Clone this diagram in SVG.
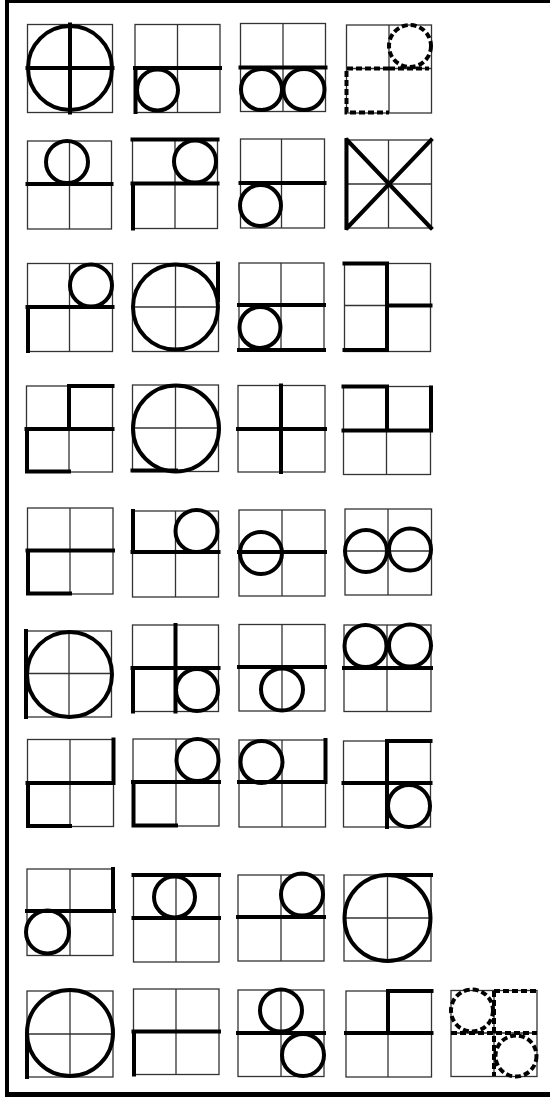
<svg xmlns="http://www.w3.org/2000/svg" width="550" height="1097" viewBox="0 0 550 1097">
<style>
.g{fill:none;stroke:#333;stroke-width:1.3}
.t{fill:none;stroke:#000;stroke-width:4;stroke-linecap:square}
.c{fill:none;stroke:#000;stroke-width:4}
.d{fill:none;stroke:#000;stroke-width:4;stroke-dasharray:6 3}
.dc{fill:none;stroke:#000;stroke-width:4;stroke-dasharray:6 3}
.b{fill:none;stroke:#000}
</style>
<g id="frame">
<line class="b" x1="7" y1="0" x2="7" y2="1097" stroke-width="4"/>
<line class="b" x1="5" y1="1.5" x2="550" y2="1.5" stroke-width="3"/>
<line class="b" x1="5" y1="1094.5" x2="550" y2="1094.5" stroke-width="5"/>
</g>
<g id="connectors"></g>

<g id="r1c1"><rect class="g" x="27.5" y="24.5" width="85" height="88"/><path class="g" d="M70 24.5V112.5M27.5 68H112.5"/>
<path class="t" d="M70 24.5V112.5M27.5 68H112.5"/><circle class="c" cx="70" cy="68" r="42"/></g>
<g id="r1c2"><rect class="g" x="135" y="24.5" width="85" height="88"/><path class="g" d="M177.5 24.5V112.5M135 68H220"/>
<path class="t" d="M135 68H220M135.5 68V112"/><circle class="c" cx="157.5" cy="90" r="20.5"/></g>
<g id="r1c3"><rect class="g" x="240.5" y="23.5" width="85" height="88"/><path class="g" d="M283 23.5V111.5M240.5 67.5H325.5"/>
<path class="t" d="M240.5 67.5H325.5"/><circle class="c" cx="261.5" cy="89.5" r="20.5"/><circle class="c" cx="304" cy="89.5" r="20.5"/></g>
<g id="r1c4"><rect class="g" x="346.5" y="25" width="85" height="88"/><path class="g" d="M389 25V113M346.5 68.5H431.5"/>
<path class="d" d="M389 68.5H346.5V112.5H389M389 68.5H429"/><circle class="dc" cx="410" cy="46" r="21"/></g>

<g id="r2c1"><rect class="g" x="27.5" y="141" width="84" height="88"/><path class="g" d="M69.5 141V229M27.5 184H111.5"/>
<path class="t" d="M27.5 184H111.5"/><circle class="c" cx="67" cy="162" r="21"/></g>
<g id="r2c2"><rect class="g" x="132.5" y="139.5" width="85" height="89"/><path class="g" d="M175 139.5V228.5M132.5 183.5H217.5"/>
<path class="t" d="M132.5 139.5H217.5M132.5 183.5H217.5M133 183.5V228.5"/><circle class="c" cx="195" cy="161.5" r="21"/></g>
<g id="r2c3"><rect class="g" x="240.5" y="139" width="84" height="89"/><path class="g" d="M281.5 139V228M240.5 183H324.5"/>
<path class="t" d="M240.5 183H324.5"/><circle class="c" cx="260.5" cy="205.5" r="20.5"/></g>
<g id="r2c4"><rect class="g" x="345.5" y="140" width="86" height="88"/><path class="g" d="M388.5 140V228M345.5 184H431.5"/>
<path class="t" d="M347 140L431 228M431 140L347 228M346.5 140V228"/></g>

<g id="r3c1"><rect class="g" x="27.5" y="263.5" width="85" height="88"/><path class="g" d="M69.5 263.5V351.5M27.5 307H112.5"/>
<path class="t" d="M27.5 307H112.5M28 307V351"/><circle class="c" cx="91" cy="285.5" r="21"/></g>
<g id="r3c2"><rect class="g" x="132.5" y="263.5" width="86" height="88"/><path class="g" d="M175.5 263.5V351.5M132.5 307H218.5"/>
<path class="t" d="M218 263.5V300"/><circle class="c" cx="175.5" cy="307" r="42.5"/></g>
<g id="r3c3"><rect class="g" x="239" y="263" width="85" height="88"/><path class="g" d="M281 263V351M239 305H324"/>
<path class="t" d="M239 305H324M239 350H324"/><circle class="c" cx="260" cy="327.5" r="20.5"/></g>
<g id="r3c4"><rect class="g" x="344.5" y="263.5" width="86" height="88"/><path class="g" d="M387 263.5V351.5M344.5 305.5H430.5"/>
<path class="t" d="M387 305.5H430.5M344.5 263.5H387V350H344.5"/></g>

<g id="r4c1"><rect class="g" x="26.5" y="386" width="86" height="86"/><path class="g" d="M69 386V472M26.5 429H112.5"/>
<path class="t" d="M112.5 386H69V429M26.5 429H112.5M27 429V471.5H69"/></g>
<g id="r4c2"><rect class="g" x="132.5" y="385" width="86" height="86.5"/><path class="g" d="M175.5 385V471.5M132.5 428H218.5"/>
<path class="t" d="M132.5 470.5H176"/><circle class="c" cx="176" cy="428.5" r="43"/></g>
<g id="r4c3"><rect class="g" x="238" y="385.5" width="87" height="86.5"/><path class="g" d="M281 385.5V472M238 429H325"/>
<path class="t" d="M281 385.5V472M238 429H325"/></g>
<g id="r4c4"><rect class="g" x="343.5" y="386.5" width="87" height="88"/><path class="g" d="M386.5 386.5V474.5M343.5 430.5H430.5"/>
<path class="t" d="M343.5 386.5H387V430.5M343.5 430.5H431M431 387.5V430.5"/></g>

<g id="r5c1"><rect class="g" x="27.5" y="508" width="85.5" height="86"/><path class="g" d="M70 508V594M27.5 550.5H113"/>
<path class="t" d="M27.5 550.5H113M28 550.5V593.5H70"/></g>
<g id="r5c2"><rect class="g" x="132.5" y="511" width="86" height="86"/><path class="g" d="M175.5 511V597M132.5 552H218.5"/>
<path class="t" d="M133 511V552M132.5 552H218.5"/><circle class="c" cx="196.5" cy="531" r="21"/></g>
<g id="r5c3"><rect class="g" x="239" y="510" width="86" height="86"/><path class="g" d="M282 510V596M239 552H325"/>
<path class="t" d="M239 552H325"/><circle class="c" cx="261" cy="553" r="21"/></g>
<g id="r5c4"><rect class="g" x="345" y="509" width="86.5" height="86"/><path class="g" d="M388 509V595M345 551H431.5"/>
<circle class="c" cx="366" cy="551" r="21"/><circle class="c" cx="410" cy="549.5" r="21"/></g>

<g id="r6c1"><rect class="g" x="26.5" y="631" width="85" height="86"/><path class="g" d="M69 631V717M26.5 673.5H111.5"/>
<path class="t" d="M26 631V717"/><circle class="c" cx="69.5" cy="674.5" r="42.5"/></g>
<g id="r6c2"><rect class="g" x="132.5" y="625" width="86" height="86.5"/><path class="g" d="M175.5 625V711.5M132.5 668H218.5"/>
<path class="t" d="M175.5 625V711.5M132.5 668H218.5M133 668V711.5"/><circle class="c" cx="197" cy="690" r="21"/></g>
<g id="r6c3"><rect class="g" x="239" y="624.5" width="86" height="86.5"/><path class="g" d="M282 624.5V711M239 667H325"/>
<path class="t" d="M239 667H325"/><circle class="c" cx="282" cy="689.5" r="21"/></g>
<g id="r6c4"><rect class="g" x="344" y="625" width="87" height="86.5"/><path class="g" d="M387 625V711.5M344 668H431"/>
<path class="t" d="M344 668H431"/><circle class="c" cx="365.5" cy="646" r="21"/><circle class="c" cx="410" cy="645.5" r="21"/></g>

<g id="r7c1"><rect class="g" x="27.5" y="739.5" width="86" height="87"/><path class="g" d="M70 739.5V826.5M27.5 783H113.5"/>
<path class="t" d="M113.5 739.5V783M27.5 783H113.5M28 783V826H70"/></g>
<g id="r7c2"><rect class="g" x="133" y="739" width="86" height="87"/><path class="g" d="M176 739V826M133 782H219"/>
<path class="t" d="M133 782H219M133.5 782V825.5H176"/><circle class="c" cx="197.5" cy="760" r="21"/></g>
<g id="r7c3"><rect class="g" x="239" y="740" width="86.5" height="87"/><path class="g" d="M282 740V827M239 782H325.5"/>
<path class="t" d="M325.5 740V782M239 782H325.5"/><circle class="c" cx="261.5" cy="762" r="21"/></g>
<g id="r7c4"><rect class="g" x="343.5" y="741" width="87" height="86"/><path class="g" d="M387 741V827M343.5 783H430.5"/>
<path class="t" d="M387 741H430.5M387 741V827M343.5 783H430.5"/><circle class="c" cx="409" cy="806" r="21"/></g>

<g id="r8c1"><rect class="g" x="27" y="869" width="86" height="86.5"/><path class="g" d="M70 869V955.5M27 911H113"/>
<path class="t" d="M113 869V911M27 911H114"/><circle class="c" cx="47.5" cy="932" r="21.5"/></g>
<g id="r8c2"><rect class="g" x="133.5" y="875" width="85.5" height="87"/><path class="g" d="M176 875V962M133.5 918H219"/>
<path class="t" d="M133.5 875H219M133.5 918H219"/><circle class="c" cx="174.5" cy="897" r="20.5"/></g>
<g id="r8c3"><rect class="g" x="238" y="875" width="86" height="86"/><path class="g" d="M281 875V961M238 917H324"/>
<path class="t" d="M238 917H324"/><circle class="c" cx="302" cy="894.5" r="21"/></g>
<g id="r8c4"><rect class="g" x="344" y="875" width="87" height="86"/><path class="g" d="M387.5 875V961M344 918H431"/>
<path class="t" d="M387.5 875H431"/><circle class="c" cx="387.5" cy="918" r="43"/></g>

<g id="r9c1"><rect class="g" x="27" y="991" width="86" height="86"/><path class="g" d="M70 991V1077M27 1034H113"/>
<path class="t" d="M27 1034V1077"/><circle class="c" cx="70" cy="1033" r="43"/></g>
<g id="r9c2"><rect class="g" x="133.5" y="989" width="85.5" height="85.5"/><path class="g" d="M176 989V1074.5M133.5 1031.5H219"/>
<path class="t" d="M133.5 1031.5H219M134 1031.5V1074.5"/></g>
<g id="r9c3"><rect class="g" x="238" y="990" width="86" height="86.5"/><path class="g" d="M281 990V1076.5M238 1033H324"/>
<path class="t" d="M238 1033H324"/><circle class="c" cx="281" cy="1010.5" r="21"/><circle class="c" cx="303" cy="1055" r="21"/></g>
<g id="r9c4"><rect class="g" x="346" y="991" width="85.5" height="86"/><path class="g" d="M388 991V1077M346 1033H431.5"/>
<path class="t" d="M388 991H431.5M388 991V1033M346 1033H431.5"/></g>
<g id="r9c5"><rect class="g" x="451" y="990.5" width="86" height="86"/><path class="g" d="M494 990.5V1076.5M451 1033H537"/>
<path class="d" d="M494 991H537M494 991V1076M451 1033H537"/><circle class="dc" cx="472" cy="1010.5" r="21"/><circle class="dc" cx="516" cy="1056" r="20.5"/></g>
</svg>
